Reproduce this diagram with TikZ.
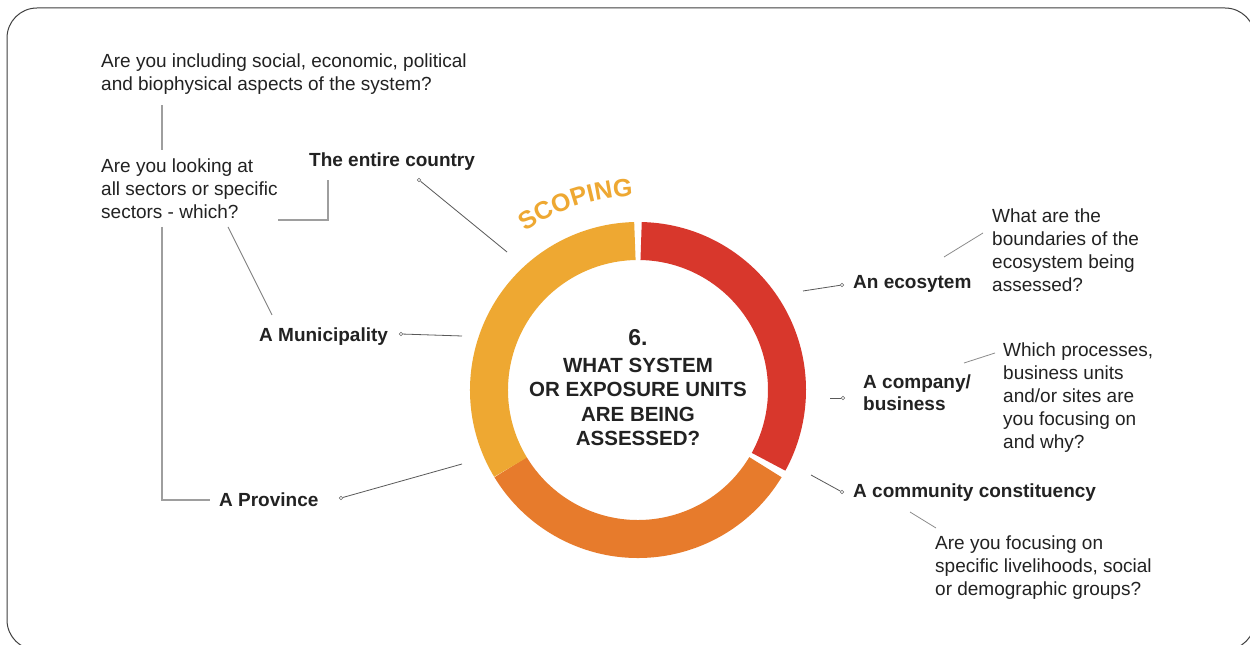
\documentclass[tikz,border=0pt]{standalone}
\usepackage{fontspec}
\setmainfont{Liberation Sans}
\usetikzlibrary{decorations.text}
\definecolor{segred}{HTML}{D8372C}
\definecolor{segorange}{HTML}{E77B2C}
\definecolor{segyellow}{HTML}{EEA832}
\definecolor{txt}{HTML}{222222}
\begin{document}
\begin{tikzpicture}[x=1pt,y=1pt,
  q/.style={anchor=west, align=left, inner sep=0pt, font=\fontsize{19}{23}\selectfont, text=txt},
  lab/.style={anchor=west, align=left, inner sep=0pt, font=\fontsize{19}{22}\selectfont\bfseries, text=txt},
  conn/.style={draw=black!65, line width=0.8pt},
  gconn/.style={draw=black!38, line width=1.2pt},
  dot/.style={circle, draw=black!60, line width=0.6pt, fill=white, inner sep=0pt, minimum size=3.6pt},
  seg/.style={line width=38pt},
]
\useasboundingbox (0,0) rectangle (1250,645);
\fill[white] (0,0) rectangle (1250,645);
\draw[black!75, line width=1pt, rounded corners=30pt] (7,637) rectangle (1255,-5);

% ring
\coordinate (C) at (638,255);
\draw[seg, segred] (C) ++(88.8:149) arc[start angle=88.8, end angle=-28.8, radius=149];
\draw[seg, segorange] (C) ++(-31.2:149) arc[start angle=-31.2, end angle=-148.8, radius=149];
\draw[seg, segyellow] (C) ++(211.2:149) arc[start angle=211.2, end angle=91.2, radius=149];
\path[decorate, decoration={text along path, text align=center,
  text={|\fontsize{25}{25}\selectfont\bfseries\color{segyellow}|SCOPING}}]
  (C) ++(130:194) arc[start angle=130, end angle=87, radius=194];

\node[inner sep=0pt, font=\fontsize{23}{26}\selectfont\bfseries, text=txt] (num) at (638,307) {6.};
\node[inner sep=0pt, align=center, font=\fontsize{20.5}{24.3}\selectfont\bfseries, text=txt] (title) at (638,243)
  {WHAT SYSTEM\\OR EXPOSURE UNITS\\ARE BEING\\ASSESSED?};

% left texts
\node[q] (q1) at (101,571) {Are you including social, economic, political\\and biophysical aspects of the system?};
\node[q] (q2) at (101,456) {Are you looking at\\all sectors or specific\\sectors - which?};
\node[lab] (country) at (309,483) {The entire country};
\node[lab] (muni) at (259,308) {A Municipality};
\node[lab] (prov) at (219,145) {A Province};

% right texts
\node[lab] (eco) at (853,361) {An ecosytem};
\node[q] (q3) at (992,395) {What are the\\boundaries of the\\ecosystem being\\assessed?};
\node[lab] (comp) at (863,252) {A company/\\business};
\node[q] (q4) at (1003,247) {Which processes,\\business units\\and/or sites are\\you focusing on\\and why?};
\node[lab] (comm) at (853,152) {A community constituency};
\node[q] (q5) at (935,77) {Are you focusing on\\specific livelihoods, social\\or demographic groups?};

% coordinates and dots
\node[dot] (dcountry) at (419,465) {};
\coordinate (rcountry) at (507,393);
\node[dot] (dmuni) at (401,311) {};
\coordinate (rmuni) at (462,309);
\node[dot] (dprov) at (341,147) {};
\coordinate (rprov) at (462,181);
\node[dot] (deco) at (842,360) {};
\coordinate (reco) at (803,354);
\node[dot] (dcomp) at (843,247) {};
\coordinate (rcomp) at (830,247);
\node[dot] (dcomm) at (842,153) {};
\coordinate (rcomm) at (811,170);

\coordinate (q2a) at (278,425);
\coordinate (cty) at (328,465);
\coordinate (q2top) at (162,495);
\coordinate (q1bot) at (162,540);
\coordinate (q2bot) at (162,418);
\coordinate (provl) at (210,145);
\coordinate (q2m) at (228,418);
\coordinate (munit) at (272,330);
\coordinate (eq1) at (944,388);
\coordinate (eq2) at (983,412);
\coordinate (cq1) at (964,282);
\coordinate (cq2) at (995,292);
\coordinate (mq1) at (910,133);
\coordinate (mq2) at (936,117);

% connectors
\draw[conn] (dcountry) -- (rcountry);
\draw[conn] (dmuni) -- (rmuni);
\draw[conn] (dprov) -- (rprov);
\draw[conn] (reco) -- (deco);
\draw[conn] (rcomp) -- (dcomp);
\draw[conn] (rcomm) -- (dcomm);
\draw[conn, draw=black!45] (eq1) -- (eq2);
\draw[conn, draw=black!45] (cq1) -- (cq2);
\draw[conn, draw=black!45] (mq1) -- (mq2);

\draw[gconn] (q2a) -| (cty);
\draw[gconn] (q2top) -- (q1bot);
\draw[gconn] (q2bot) |- (provl);
\draw[gconn, line width=0.9pt, draw=black!50] (q2m) -- (munit);
\end{tikzpicture}
\end{document}
